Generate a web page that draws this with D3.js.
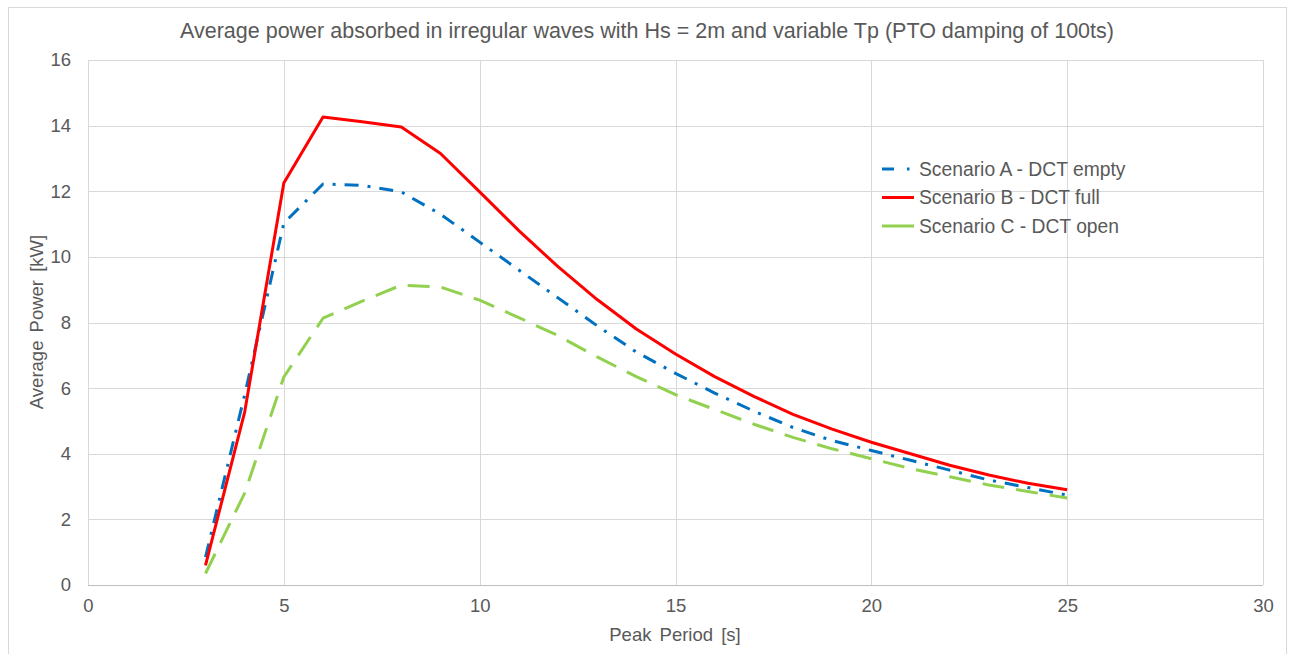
<!DOCTYPE html>
<html><head><meta charset="utf-8">
<script src="https://cdn.jsdelivr.net/npm/d3@7"></script>
<style>body{margin:0;background:#fff;} text{font-family:Arial,"Liberation Sans",sans-serif;fill:#595959;}</style>
</head><body><svg id="c" width="1291" height="654"></svg>
<script>
const periods = [3,4,5,6,7,8,9,10,11,12,13,14,15,16,17,18,19,20,21,22,23,24,25];
const scenarioA = [0.85,5.8,11.03,12.22,12.18,11.98,11.3,10.45,9.6,8.75,7.9,7.1,6.45,5.85,5.3,4.8,4.4,4.1,3.8,3.5,3.2,2.97,2.74];
const scenarioB = [0.6,5.27,12.25,14.26,14.12,13.96,13.15,11.98,10.8,9.7,8.7,7.8,7.04,6.35,5.75,5.2,4.75,4.35,4.0,3.65,3.35,3.1,2.9];
const scenarioC = [0.35,2.8,6.34,8.13,8.65,9.14,9.08,8.68,8.15,7.6,6.95,6.35,5.8,5.35,4.9,4.5,4.15,3.85,3.55,3.3,3.05,2.85,2.65];
const xTicks = [0,5,10,15,20,25,30];
const yTicks = [0,2,4,6,8,10,12,14,16];
const seriesNames = ["Scenario A - DCT empty","Scenario B - DCT full","Scenario C - DCT open"];

const svg = d3.select("#c");
svg.append("rect").attr("x",8.5).attr("y",7.5).attr("width",1278).attr("height",660).attr("fill","#fff").attr("stroke","#d9d9d9");
const L=88,R=1263,T=60,B=585;
const x = d3.scaleLinear().domain([0,30]).range([L,R]);
const y = d3.scaleLinear().domain([0,16]).range([B,T]);

const g = svg.append("g");
g.selectAll(".vg").data(xTicks).join("line").attr("x1",d=>Math.round(x(d))+0.5).attr("x2",d=>Math.round(x(d))+0.5)
 .attr("y1",T).attr("y2",B).attr("stroke","#d9d9d9").attr("stroke-width",1);
g.selectAll(".hg").data(yTicks).join("line").attr("y1",d=>Math.round(y(d))+0.5).attr("y2",d=>Math.round(y(d))+0.5)
 .attr("x1",L).attr("x2",R).attr("stroke",d=>d===0?"#bfbfbf":"#d9d9d9").attr("stroke-width",1);

const xa = svg.append("g").attr("transform",`translate(0,${B})`).call(d3.axisBottom(x).tickValues(xTicks).tickSize(0).tickPadding(14));
xa.select(".domain").remove();
xa.selectAll("text").attr("font-size",18.5).style("fill","#595959");
const ya = svg.append("g").attr("transform",`translate(${L},0)`).call(d3.axisLeft(y).tickValues(yTicks).tickSize(0).tickPadding(17));
ya.select(".domain").remove();
ya.selectAll("text").attr("font-size",18.5).style("fill","#595959");

const line = d3.line().x((d,i)=>x(periods[i])).y(d=>y(d));
const styles = [
 {data:scenarioA,color:"#0070c0",dash:"14,9,3,9"},
 {data:scenarioB,color:"#ff0000",dash:null},
 {data:scenarioC,color:"#92d050",dash:"22,12"}
];
const drawOrder=[2,0,1];
drawOrder.forEach(k=>{
 const s=styles[k];
 svg.append("path").datum(s.data).attr("d",line).attr("fill","none").attr("stroke",s.color)
  .attr("stroke-width",3).attr("stroke-linejoin","round").attr("stroke-dasharray",s.dash);
});

svg.append("text").attr("x",647).attr("y",38).attr("text-anchor","middle").attr("font-size",21.5)
 .text("Average power absorbed in irregular waves with Hs = 2m and variable Tp (PTO damping of 100ts)");
svg.append("text").attr("x",675).attr("y",641).attr("text-anchor","middle").attr("font-size",18.5).attr("word-spacing","3px").text("Peak Period [s]");
svg.append("text").attr("transform","translate(43,322) rotate(-90)").attr("text-anchor","middle").attr("font-size",18.5).attr("word-spacing","3px").text("Average Power [kW]");

const leg = svg.append("g");
styles.forEach((s,i)=>{
 const yy = 169 + i*28.5;
 leg.append("line").attr("x1",882).attr("x2",914).attr("y1",yy).attr("y2",yy).attr("stroke",s.color).attr("stroke-width",3)
  .attr("stroke-dasharray",s.dash?(i===0?"12,13,2.5,100":"40"):null);
 leg.append("text").attr("x",919).attr("y",yy+6.5).attr("font-size",19.3).text(seriesNames[i]);
});
</script></body></html>
